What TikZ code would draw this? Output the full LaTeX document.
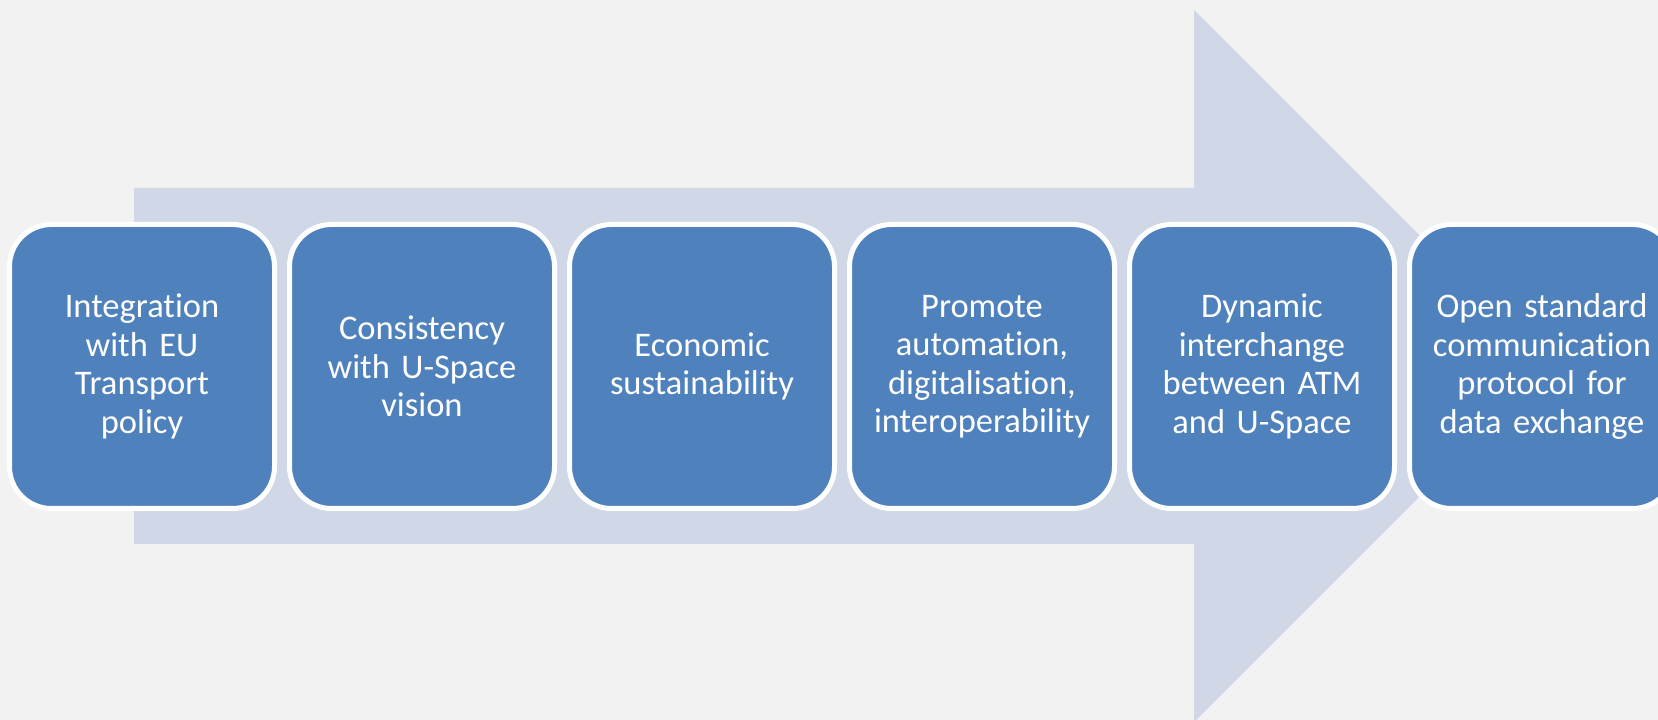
\documentclass[tikz,border=0pt]{standalone}
\usepackage{fontspec}
\setmainfont{Carlito}[Ligatures={NoCommon}]
\definecolor{bgc}{HTML}{F2F2F2}
\definecolor{arrowc}{HTML}{D0D8E8}
\definecolor{boxc}{HTML}{4F81BD}
\begin{document}
\begin{tikzpicture}[x=1pt,y=1pt,
  stagebox/.style={draw=white, line width=5pt, fill=boxc, rounded corners=42pt,
    minimum width=265pt, minimum height=284pt, inner sep=0pt,
    text=white, align=center, text width=262pt,
    font=\fontsize{34.5pt}{38.5pt}\selectfont}]
\useasboundingbox (0,0) rectangle (1658,720);
\clip (0,0) rectangle (1658,720);
\fill[bgc] (0,0) rectangle (1658,720);
\fill[arrowc] (134,532) -- (1194,532) -- (1194,710) -- (1550,354) -- (1194,-2) -- (1194,176) -- (134,176) -- cycle;
\node[stagebox] (b1) at (142,353.5) {Integration\\with EU\\Transport\\policy};
\node[stagebox] (b2) at (422,353.5) {Consistency\\with U-Space\\vision};
\node[stagebox] (b3) at (702,353.5) {Economic\\sustainability};
\node[stagebox] (b4) at (982,353.5) {Promote\\automation,\\digitalisation,\\interoperability};
\node[stagebox] (b5) at (1262,353.5) {Dynamic\\interchange\\between ATM\\and U-Space};
\node[stagebox] (b6) at (1542,353.5) {Open standard\\communication\\protocol for\\data exchange};
\end{tikzpicture}
\end{document}
